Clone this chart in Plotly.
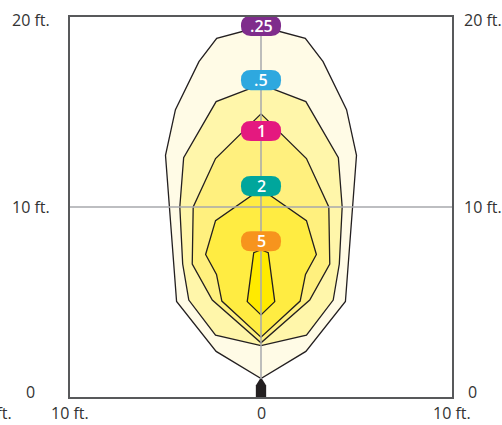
import plotly.graph_objects as go

# Illuminance contour levels (labels) and their colours
levels = [".25", ".5", "1", "2", "5"]
fill_colors = ["#FFFBE6", "#FFF6AA", "#FFF07E", "#FFEC42", "#FFEA00"]
pill_colors = ["#7F2C8C", "#2EA8DF", "#E4197F", "#00A69C", "#F7941D"]
label_y = [19.53, 16.68, 14.0, 11.1, 8.2]

# Right-half vertices of each (symmetric) contour, in feet
x_025 = [0, 2.32, 3.25, 4.48, 5.0, 4.42, 2.35, 0]
y_025 = [19.5, 18.88, 17.65, 15.12, 12.72, 5.03, 2.4, 0.97]
x_05 = [0, 2.35, 4.05, 4.25, 4.1, 3.78, 2.38, 0]
y_05 = [16.45, 15.55, 12.6, 10.0, 7.0, 5.1, 3.26, 2.7]
x_1 = [0, 2.38, 3.55, 3.6, 2.55, 0]
y_1 = [14.9, 12.55, 10.0, 7.0, 5.1, 2.85]
x_2 = [0, 2.38, 2.9, 2.33, 2.05, 0]
y_2 = [10.95, 9.28, 7.5, 6.45, 5.05, 3.15]
x_5 = [0, 0.38, 0.72, 0]
y_5 = [7.75, 7.6, 5.02, 4.32]

contours_x = [x_025, x_05, x_1, x_2, x_5]
contours_y = [y_025, y_05, y_1, y_2, y_5]

# axis tick labels
y_tick_vals = [0, 10, 20]
y_tick_text = ["0", "10 ft.", "20 ft."]
x_tick_vals = [-10, 0, 10]
x_tick_text = ["10 ft.", "0", "10 ft."]

fig = go.Figure()

for xs, ys, fc in zip(contours_x, contours_y, fill_colors):
    full_x = list(xs) + [-v for v in reversed(xs[1:-1])] + [xs[0]]
    full_y = list(ys) + list(reversed(ys[1:-1])) + [ys[0]]
    fig.add_trace(go.Scatter(
        x=full_x, y=full_y, mode="lines", fill="toself", fillcolor=fc,
        line=dict(color="#231F20", width=1.3), hoverinfo="skip", showlegend=False))

shapes = []
# grid lines through centre
shapes.append(dict(type="line", xref="x", yref="y", x0=0, x1=0, y0=0, y1=20,
                   line=dict(color="#A7A9AC", width=1.5), layer="above"))
shapes.append(dict(type="line", xref="x", yref="y", x0=-10, x1=10, y0=10, y1=10,
                   line=dict(color="#A7A9AC", width=1.5), layer="above"))

# pill shaped labels
hw, hh, r = 1.05, 0.53, 0.52
for ly, pc in zip(label_y, pill_colors):
    x0, x1, y0, y1 = -hw, hw, ly - hh, ly + hh
    path = (f"M {x0 + r},{y0} L {x1 - r},{y0} Q {x1},{y0} {x1},{y0 + r} "
            f"L {x1},{y1 - r} Q {x1},{y1} {x1 - r},{y1} L {x0 + r},{y1} "
            f"Q {x0},{y1} {x0},{y1 - r} L {x0},{y0 + r} Q {x0},{y0} {x0 + r},{y0} Z")
    shapes.append(dict(type="path", xref="x", yref="y", path=path,
                       fillcolor=pc, line=dict(width=0), layer="above"))

# luminaire marker at the base
shapes.append(dict(type="path", xref="x", yref="y",
                   path="M -0.27,0 L -0.27,0.6 L -0.06,0.95 L 0.06,0.95 L 0.27,0.6 L 0.27,0 Z",
                   fillcolor="#231F20", line=dict(width=0), layer="above"))

annotations = []
for lv, ly in zip(levels, label_y):
    annotations.append(dict(x=0, y=ly, xref="x", yref="y", text=lv, showarrow=False,
                            font=dict(family="Open Sans", size=16, color="white", weight=600),
                            xanchor="center", yanchor="middle"))

tick_font = dict(family="Open Sans", size=16, color="#333333")
yshifts = {0: 5, 10: 0, 20: -3}
for v, t in zip(y_tick_vals, y_tick_text):
    annotations.append(dict(x=-10, y=v, xref="x", yref="y", text=t, showarrow=False,
                            font=tick_font, xanchor="center", yanchor="middle",
                            xshift=-39 if v else -40, yshift=yshifts[v]))
    annotations.append(dict(x=10, y=v, xref="x", yref="y", text=t, showarrow=False,
                            font=tick_font, xanchor="left", yanchor="middle",
                            xshift=14 if v == 0 else 10, yshift=yshifts[v]))
for v, t in zip(x_tick_vals, x_tick_text):
    annotations.append(dict(x=v, y=0, xref="x", yref="y", text=t, showarrow=False,
                            font=tick_font, xanchor="center", yanchor="middle",
                            yshift=-16))
# partially cut-off label at the far left edge
annotations.append(dict(x=-10, y=0, xref="x", yref="y", text="10 ft.", showarrow=False,
                        font=tick_font, xanchor="center", yanchor="middle",
                        xshift=-77, yshift=-16))

fig.update_layout(
    width=502, height=425,
    margin=dict(l=70, r=50, t=17, b=28),
    paper_bgcolor="white", plot_bgcolor="white",
    xaxis=dict(range=[-10, 10], showgrid=False, zeroline=False, showticklabels=False,
               ticks="", showline=True, linecolor="#58595B", linewidth=2, mirror=True,
               fixedrange=True),
    yaxis=dict(range=[0, 20], showgrid=False, zeroline=False, showticklabels=False,
               ticks="", showline=True, linecolor="#58595B", linewidth=2, mirror=True,
               fixedrange=True),
    shapes=shapes, annotations=annotations, showlegend=False,
)

fig.write_html("out.html", config={"displayModeBar": False},
               post_script="document.body.style.margin='0px';document.body.style.overflow='hidden';")
